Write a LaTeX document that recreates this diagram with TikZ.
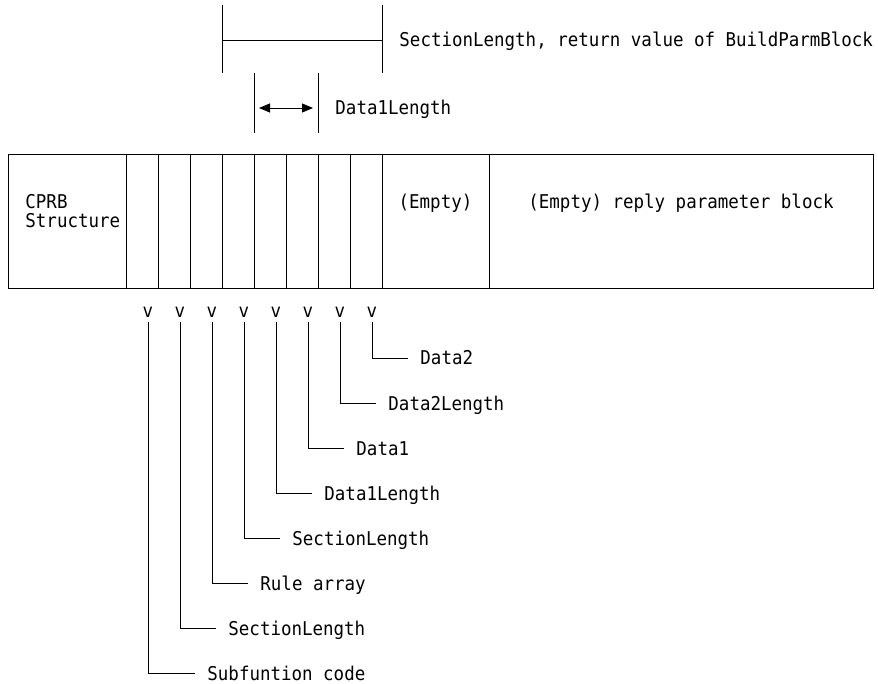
\documentclass[tikz,border=0pt]{standalone}
\usepackage{fontspec}
\newfontfamily\mono[FakeStretch=0.92]{DejaVu Sans Mono}
\usetikzlibrary{arrows.meta}
\begin{document}
\begin{tikzpicture}[x=1pt,y=-1pt,
  font=\mono\fontsize{19}{23}\selectfont,
  line width=0.9pt,
  cell/.style={draw, minimum height=134pt, inner sep=0pt, outer sep=0pt, anchor=north west},
  txt/.style={inner sep=0pt, anchor=base west},
  vmark/.style={inner sep=0pt, anchor=base},
  lbl/.style={inner sep=0pt, anchor=base west},
  dim/.style={arrows={Triangle[length=11pt,width=9pt]-Triangle[length=11pt,width=9pt]}}]
\useasboundingbox (0,0) rectangle (878,684);
% record cells
\node[cell, minimum width=118pt] (c0) at (8,154) {};
\node[cell, minimum width=32pt] (c1) at (126,154) {};
\node[cell, minimum width=32pt] (c2) at (158,154) {};
\node[cell, minimum width=32pt] (c3) at (190,154) {};
\node[cell, minimum width=32pt] (c4) at (222,154) {};
\node[cell, minimum width=32pt] (c5) at (254,154) {};
\node[cell, minimum width=32pt] (c6) at (286,154) {};
\node[cell, minimum width=32pt] (c7) at (318,154) {};
\node[cell, minimum width=32pt] (c8) at (350,154) {};
\node[cell, minimum width=107pt] (c9) at (382,154) {};
\node[cell, minimum width=384pt] (c10) at (489,154) {};
\node[txt] (cprb) at (25,209) {CPRB};
\node[txt] (struct) at (25,228) {Structure};
\node[inner sep=0pt, anchor=base] (e1) at (435.5,209) {(Empty)};
\node[inner sep=0pt, anchor=base] (e2) at (681,209) {(Empty) reply parameter block};
% SectionLength bracket
\coordinate (sa) at (222,5); \coordinate (sb) at (222,73);
\coordinate (sc) at (382,5); \coordinate (sd) at (382,73);
\coordinate (sm1) at (222,40); \coordinate (sm2) at (382,40);
\draw (sa) -- (sb); \draw (sc) -- (sd); \draw (sm1) -- (sm2);
\node[txt] (stext) at (399,47) {SectionLength, return value of BuildParmBlock};
% Data1Length bracket
\coordinate (da) at (254,73); \coordinate (db) at (254,133);
\coordinate (dc) at (318,73); \coordinate (dd) at (318,133);
\coordinate (dm1) at (259,108); \coordinate (dm2) at (313,108);
\draw (da) -- (db); \draw (dc) -- (dd); \draw[dim] (dm1) -- (dm2);
\node[txt] (dtext) at (335,115) {Data1Length};
% v marks
\foreach \i/\x in {1/148,2/180,3/212,4/244,5/276,6/308,7/340,8/372}
  \node[vmark] (v\i) at (\x,318) {v};
% labels
\node[lbl] (l1) at (207,680) {Subfuntion code};
\node[lbl] (l2) at (228,635) {SectionLength};
\node[lbl] (l3) at (260,590) {Rule array};
\node[lbl] (l4) at (292,545) {SectionLength};
\node[lbl] (l5) at (324,500) {Data1Length};
\node[lbl] (l6) at (356,455) {Data1};
\node[lbl] (l7) at (388,410) {Data2Length};
\node[lbl] (l8) at (420,365) {Data2};
\foreach \i in {1,...,8}
  \draw ([yshift=-4pt]v\i.south) |- ([xshift=-12pt,yshift=7pt]l\i.base west);
\end{tikzpicture}
\end{document}
